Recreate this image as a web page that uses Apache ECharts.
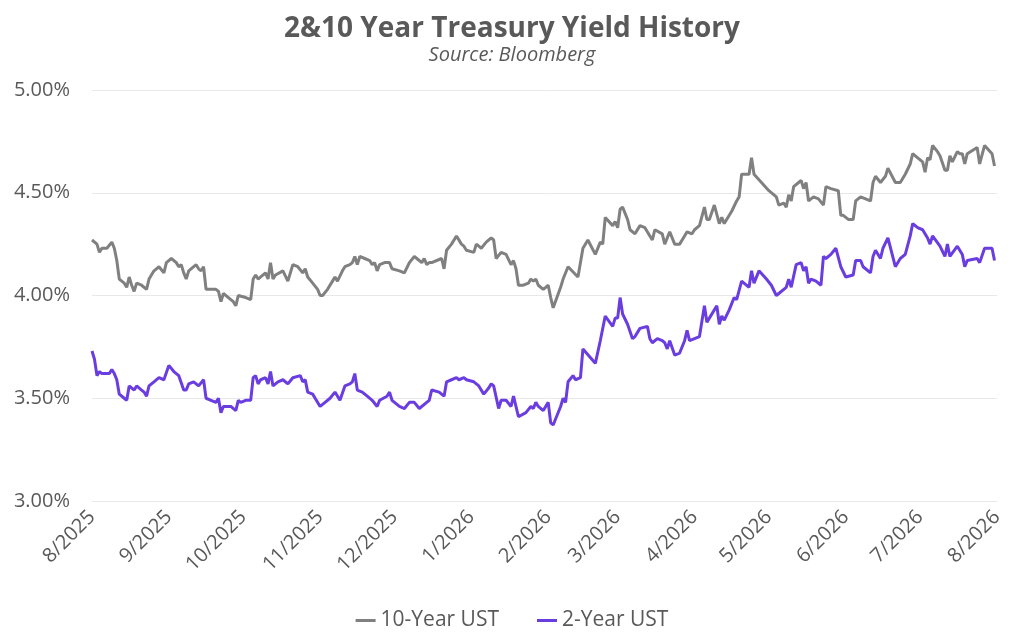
<!DOCTYPE html>
<html>
<head>
<meta charset="utf-8">
<title>2&amp;10 Year Treasury Yield History</title>
<script src="https://cdn.jsdelivr.net/npm/echarts@6/dist/echarts.min.js"></script>
<style>
  html, body { margin: 0; padding: 0; background: #fff; }
  #main { width: 1024px; height: 640px; }
</style>
</head>
<body>
<div id="main"></div>
<script>
// x tick labels, one per month start
var tickLabels = ['8/2025', '9/2025', '10/2025', '11/2025', '12/2025', '1/2026', '2/2026',
                  '3/2026', '4/2026', '5/2026', '6/2026', '7/2026', '8/2026'];

// [days after 8/1/2025, yield %]
var tenYear = [
  [0,4.27],[2,4.25],[3,4.21],[4,4.23],[6,4.23],[8,4.26],[9,4.23],[10,4.17],[11,4.08],[13,4.06],
  [14,4.04],[15,4.09],[16,4.05],[17,4.02],[18,4.06],[20,4.05],[22,4.03],[23,4.08],[25,4.12],[26,4.13],
  [27,4.14],[29,4.11],[30,4.16],[32,4.18],[34,4.16],[35,4.14],[36,4.15],[37,4.11],[38,4.08],[39,4.12],
  [42,4.15],[43,4.13],[44,4.12],[45,4.14],[46,4.03],[50,4.03],[51,4.02],[52,3.97],[53,4.01],[55,3.99],
  [57,3.97],[58,3.95],[59,4.00],[62,3.99],[64,3.98],[65,4.08],[66,4.10],[67,4.08],[69,4.10],[70,4.11],
  [71,4.08],[72,4.16],[73,4.08],[74,4.10],[77,4.12],[79,4.07],[81,4.15],[83,4.14],[85,4.11],[86,4.13],
  [87,4.09],[89,4.06],[91,4.03],[92,4.00],[93,4.00],[95,4.03],[97,4.07],[98,4.09],[99,4.07],[101,4.12],
  [102,4.14],[104,4.15],[105,4.16],[106,4.19],[107,4.15],[108,4.19],[110,4.18],[112,4.17],[113,4.15],[114,4.16],
  [115,4.12],[116,4.15],[118,4.16],[120,4.16],[121,4.13],[124,4.12],[126,4.11],[128,4.16],[130,4.19],[131,4.18],
  [133,4.16],[134,4.18],[135,4.15],[136,4.16],[137,4.16],[141,4.18],[142,4.13],[143,4.22],[145,4.25],[147,4.29],
  [149,4.25],[150,4.24],[151,4.22],[154,4.21],[155,4.25],[156,4.24],[157,4.23],[159,4.26],[161,4.28],[162,4.27],
  [163,4.18],[165,4.21],[167,4.20],[169,4.15],[170,4.17],[171,4.13],[172,4.05],[174,4.05],[176,4.06],[177,4.08],
  [178,4.07],[179,4.08],[180,4.05],[182,4.03],[183,4.04],[184,4.05],[185,3.99],[186,3.94],[189,4.04],[190,4.08],
  [192,4.14],[196,4.09],[198,4.23],[200,4.27],[203,4.20],[205,4.26],[206,4.25],[207,4.38],[210,4.34],[211,4.36],
  [212,4.33],[213,4.42],[214,4.43],[216,4.37],[217,4.32],[219,4.30],[221,4.34],[223,4.33],[225,4.29],[226,4.27],
  [227,4.32],[230,4.30],[231,4.25],[233,4.31],[235,4.25],[237,4.25],[239,4.29],[240,4.31],[242,4.30],[243,4.32],
  [245,4.34],[247,4.43],[248,4.37],[249,4.37],[251,4.44],[253,4.35],[254,4.38],[255,4.35],[258,4.41],[260,4.46],
  [261,4.48],[262,4.59],[265,4.59],[266,4.67],[267,4.59],[270,4.55],[273,4.51],[276,4.48],[277,4.44],[279,4.45],
  [280,4.43],[281,4.49],[282,4.46],[283,4.53],[285,4.55],[286,4.56],[287,4.52],[288,4.55],[289,4.46],[291,4.48],
  [293,4.47],[295,4.44],[296,4.53],[298,4.52],[301,4.51],[302,4.39],[303,4.39],[305,4.37],[307,4.37],[308,4.46],
  [310,4.48],[312,4.47],[314,4.46],[315,4.55],[316,4.58],[318,4.55],[320,4.58],[321,4.62],[324,4.55],[326,4.55],
  [328,4.59],[330,4.64],[331,4.69],[333,4.67],[335,4.65],[336,4.60],[337,4.67],[338,4.66],[339,4.73],[341,4.70],
  [342,4.68],[344,4.61],[345,4.61],[346,4.68],[347,4.65],[349,4.70],[350,4.69],[351,4.69],[352,4.64],[353,4.69],
  [357,4.72],[358,4.64],[360,4.73],[363,4.69],[364,4.63]
];

var twoYear = [
  [0,3.73],[1,3.69],[2,3.61],[3,3.63],[4,3.62],[7,3.62],[8,3.64],[9,3.62],[10,3.59],[11,3.52],
  [13,3.50],[14,3.49],[15,3.56],[17,3.54],[18,3.56],[20,3.54],[21,3.53],[22,3.51],[23,3.56],[25,3.58],
  [27,3.60],[29,3.59],[31,3.66],[33,3.63],[35,3.61],[37,3.54],[38,3.54],[39,3.57],[41,3.58],[43,3.56],
  [45,3.59],[46,3.50],[48,3.49],[50,3.48],[51,3.50],[52,3.43],[53,3.46],[56,3.46],[58,3.44],[59,3.49],
  [60,3.48],[62,3.49],[64,3.49],[65,3.60],[66,3.61],[67,3.57],[68,3.59],[70,3.60],[71,3.57],[72,3.63],
  [73,3.56],[75,3.58],[77,3.59],[79,3.57],[81,3.60],[84,3.61],[85,3.58],[86,3.59],[87,3.53],[89,3.52],
  [90,3.50],[92,3.46],[94,3.48],[96,3.50],[98,3.53],[100,3.49],[102,3.56],[104,3.57],[105,3.58],[106,3.62],
  [107,3.54],[109,3.53],[111,3.51],[113,3.49],[115,3.46],[116,3.49],[119,3.51],[120,3.53],[121,3.49],[124,3.46],
  [126,3.45],[128,3.48],[130,3.48],[132,3.45],[135,3.48],[136,3.49],[137,3.54],[140,3.53],[142,3.51],[143,3.58],
  [145,3.59],[147,3.60],[148,3.59],[150,3.60],[151,3.59],[154,3.58],[155,3.57],[156,3.56],[158,3.52],[160,3.55],
  [161,3.57],[162,3.56],[164,3.45],[165,3.49],[167,3.49],[169,3.46],[170,3.51],[172,3.41],[175,3.43],[177,3.46],
  [178,3.45],[179,3.48],[180,3.46],[182,3.44],[184,3.48],[185,3.38],[186,3.37],[189,3.46],[190,3.50],[191,3.48],
  [192,3.58],[194,3.61],[195,3.59],[197,3.60],[198,3.74],[203,3.67],[205,3.78],[207,3.90],[210,3.85],[211,3.89],
  [212,3.89],[213,3.99],[214,3.91],[216,3.86],[218,3.79],[219,3.80],[221,3.84],[224,3.85],[225,3.79],[226,3.77],
  [228,3.79],[230,3.78],[231,3.77],[232,3.74],[233,3.78],[235,3.71],[237,3.72],[239,3.78],[240,3.83],[241,3.78],
  [245,3.80],[247,3.95],[248,3.87],[249,3.89],[252,3.95],[253,3.86],[254,3.90],[255,3.88],[257,3.93],[259,3.99],
  [260,3.98],[262,4.07],[265,4.04],[266,4.12],[267,4.06],[269,4.12],[272,4.08],[274,4.05],[276,4.00],[280,4.04],
  [281,4.08],[282,4.04],[284,4.15],[286,4.16],[287,4.12],[288,4.14],[289,4.06],[290,4.08],[292,4.07],[294,4.05],
  [295,4.19],[296,4.18],[298,4.20],[300,4.23],[302,4.14],[304,4.09],[307,4.10],[308,4.17],[310,4.17],[311,4.14],
  [314,4.11],[315,4.19],[316,4.22],[318,4.18],[319,4.23],[321,4.28],[324,4.14],[326,4.18],[328,4.20],[330,4.29],
  [331,4.35],[333,4.33],[335,4.32],[337,4.28],[338,4.25],[339,4.29],[342,4.24],[344,4.19],[345,4.25],[346,4.19],
  [349,4.24],[351,4.20],[352,4.14],[353,4.17],[357,4.18],[358,4.16],[360,4.23],[363,4.23],[364,4.17]
];

var startTime = new Date(2025, 7, 1).getTime();
var DAY = 86400000;

function toSeries(rows) {
  return rows.map(function (r) { return [startTime + r[0] * DAY, r[1]]; });
}

// month-start timestamps for the tick labels
var monthTimes = tickLabels.map(function (lab) {
  var p = lab.split('/');
  return new Date(+p[1], +p[0] - 1, 1).getTime();
});

var textColor = '#595959';
var fontFamily = '"Open Sans", Lato, sans-serif';

var myChart = echarts.init(document.getElementById('main'));

var option = {
  backgroundColor: '#ffffff',
  animation: false,
  textStyle: { fontFamily: fontFamily },
  title: {
    text: '2&10 Year Treasury Yield History',
    subtext: 'Source: Bloomberg',
    left: 'center',
    top: 10,
    itemGap: 2,
    textStyle: { color: textColor, fontSize: 28, fontWeight: 'bold', fontFamily: fontFamily },
    subtextStyle: { color: textColor, fontSize: 20, fontStyle: 'italic', fontFamily: fontFamily }
  },
  legend: {
    bottom: 4,
    left: 'center',
    itemWidth: 20,
    itemHeight: 3,
    itemGap: 38,
    icon: 'rect',
    textStyle: { color: textColor, fontSize: 21, fontFamily: fontFamily },
    data: ['10-Year UST', '2-Year UST']
  },
  grid: { left: 92, right: 27, top: 90, bottom: 139 },
  xAxis: {
    type: 'value',
    min: monthTimes[0],
    max: monthTimes[monthTimes.length - 1],
    axisLine: { show: false },
    axisTick: { show: false },
    splitLine: { show: false },
    axisLabel: {
      customValues: monthTimes,
      rotate: 45,
      margin: 13,
      color: textColor,
      fontSize: 20,
      fontFamily: fontFamily,
      formatter: function (val) {
        return tickLabels[monthTimes.indexOf(val)] || '';
      }
    }
  },
  yAxis: {
    type: 'value',
    min: 3,
    max: 5,
    interval: 0.5,
    axisLine: { show: false },
    axisTick: { show: false },
    splitLine: { lineStyle: { color: '#e8e8e8', width: 1 } },
    axisLabel: {
      margin: 22,
      color: textColor,
      fontSize: 20,
      fontFamily: fontFamily,
      formatter: function (v) { return v.toFixed(2) + '%'; }
    }
  },
  series: [
    {
      name: '10-Year UST',
      type: 'line',
      symbol: 'none',
      color: '#808080',
      lineStyle: { width: 3, color: '#808080' },
      data: toSeries(tenYear)
    },
    {
      name: '2-Year UST',
      type: 'line',
      symbol: 'none',
      color: '#6a3de0',
      lineStyle: { width: 3, color: '#6a3de0' },
      data: toSeries(twoYear)
    }
  ]
};

myChart.setOption(option);
</script>
</body>
</html>
